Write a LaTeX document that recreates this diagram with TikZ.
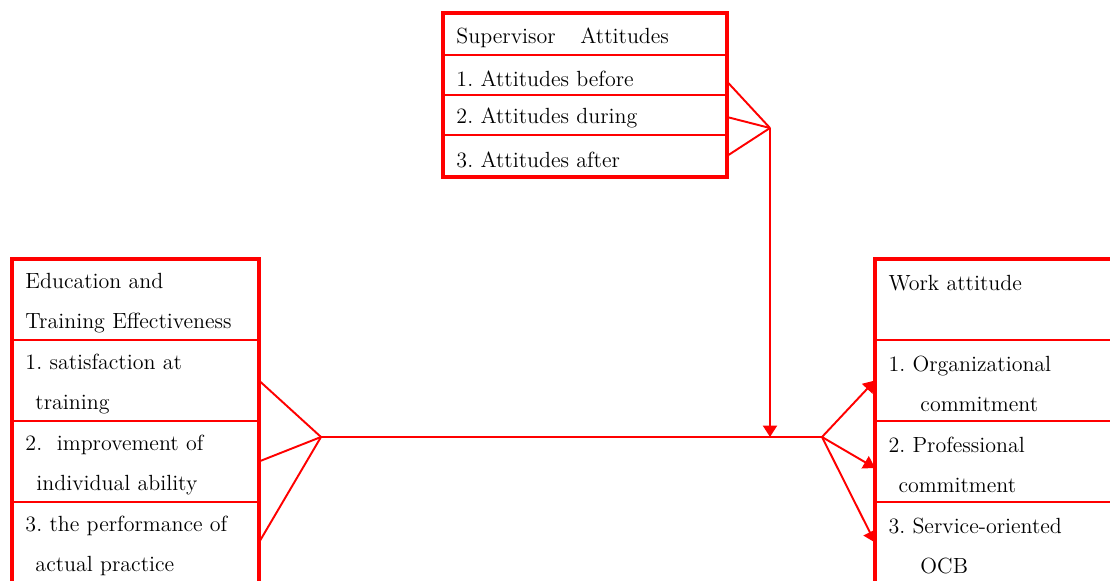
\documentclass[tikz,border=0pt]{standalone}
\usepackage{tikz}
\usetikzlibrary{arrows.meta}

\definecolor{boxred}{RGB}{255,0,0}
\frenchspacing

\tikzset{
  cell/.style={draw=boxred, line width=0.7pt, rectangle, anchor=north west,
    align=left, outer sep=0pt, inner ysep=0pt, inner xsep=0.27cm,
    font=\fontsize{12.5}{22.8}\selectfont,
    execute at begin node={\rule{0pt}{12.8pt}}},
  frame/.style={draw=boxred, line width=1.9pt},
  link/.style={draw=boxred, line width=1.1pt},
}

\begin{document}
\begin{tikzpicture}[x=0.02cm, y=-0.02cm, >={Triangle[length=6.5pt,width=8pt]}]

    \useasboundingbox (0,0) rectangle (1110,581);
    \clip (0,0) rectangle (1110,581);

    % --- Supervisor attitudes (top) ---
    \node[cell, text width=5.14cm, minimum height=0.84cm] (supH) at (443,13) {Supervisor\hspace{14pt}Attitudes};
    \node[cell, text width=5.14cm, minimum height=0.8cm] (supA) at (443,55) {1. Attitudes before};
    \node[cell, text width=5.14cm, minimum height=0.8cm] (supB) at (443,95) {2. Attitudes during};
    \node[cell, text width=5.14cm, minimum height=0.84cm] (supC) at (443,135) {3. Attitudes after};
    \draw[frame] (supH.north west) rectangle (supC.south east);

    % --- Education and training effectiveness (left) ---
    \node[cell, text width=4.40cm, minimum height=1.62cm] (effH) at (12,259) {Education and\\Training Effectiveness};
    \node[cell, text width=4.40cm, minimum height=1.62cm] (effA) at (12,340) {1. satisfaction at\\\hspace*{0.2cm}training};
    \node[cell, text width=4.40cm, minimum height=1.62cm] (effB) at (12,421) {2.\ \ improvement of\\\hspace*{0.22cm}individual ability};
    \node[cell, text width=4.40cm, minimum height=1.62cm] (effC) at (12,502) {3. the performance of\\\hspace*{0.2cm}actual practice};
    \draw[frame] (effH.north west) rectangle (effC.south east);

    % --- Work attitude (right) ---
    \node[cell, text width=4.40cm, minimum height=1.62cm] (waH) at (875,259) {Work attitude\\\mbox{}};
    \node[cell, text width=4.40cm, minimum height=1.62cm] (waA) at (875,340) {1. Organizational\\\hspace*{0.64cm}commitment};
    \node[cell, text width=4.40cm, minimum height=1.62cm] (waB) at (875,421) {2. Professional\\\hspace*{0.2cm}commitment};
    \node[cell, text width=4.40cm, minimum height=1.62cm] (waC) at (875,502) {3. Service-oriented\\\hspace*{0.64cm}OCB};
    \draw[frame] (waH.north west) rectangle (waC.south east);

    % puntos de union
    \coordinate (supfork) at (770,128);
    \coordinate (effork) at (321,437);
    \coordinate (wafork) at (822,437);
    \coordinate (join) at (supfork |- wafork);

    % lineas de union
    \draw[link] ([yshift=-0.13cm]supA.east) -- (supfork);
    \draw[link] ([yshift=-0.04cm]supB.east) -- (supfork);
    \draw[link] (supC.east) -- (supfork);
    \draw[link, ->] (supfork) -- (join);

    \foreach \r in {effA, effB, effC} {
        \draw[link] (\r.east) -- (effork);
    }
    \draw[link] (effork) -- (wafork);

    \draw[link, ->] (wafork) -- (waA.west);
    \draw[link, ->] (wafork) -- ([yshift=-0.13cm]waB.west);
    \draw[link, ->] (wafork) -- (waC.west);

\end{tikzpicture}
\end{document}
